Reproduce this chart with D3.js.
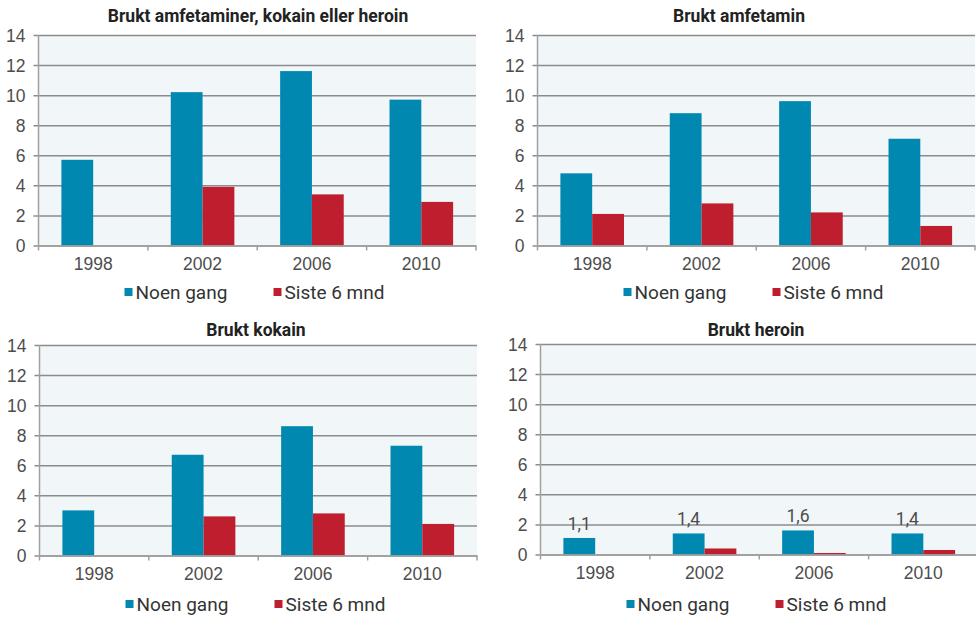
<!DOCTYPE html>
<html lang="no">
<head>
    <meta charset="UTF-8">
    <title>Brukt amfetaminer, kokain eller heroin</title>
    <script src="https://d3js.org/d3.v7.min.js"></script>
    <style>
        body {
            margin: 0;
            background: #fff;
            font-family: Roboto, "Noto Sans", sans-serif;
        }
        .tick text {
            font-size: 17.5px;
            fill: #4d4d4d;
        }
        .title {
            font-size: 17.5px;
            font-weight: bold;
            fill: #222;
            text-anchor: middle;
        }
        .legend text {
            font-size: 19px;
            fill: #333;
        }
        .label {
            font-size: 17.5px;
            fill: #4d4d4d;
            text-anchor: middle;
        }
    </style>
</head>
<body>
    <svg id="chart" width="976" height="617"></svg>

    <script>
        // Data
        const years = ["1998", "2002", "2006", "2010"];
        const seriesNames = ["Noen gang", "Siste 6 mnd"];
        const yTicks = [0, 2, 4, 6, 8, 10, 12, 14];

        const anyNoen = [5.7, 10.2, 11.6, 9.7];
        const anySiste = [null, 3.9, 3.4, 2.9];
        const amfNoen = [4.8, 8.8, 9.6, 7.1];
        const amfSiste = [2.1, 2.8, 2.2, 1.3];
        const kokNoen = [3.0, 6.7, 8.6, 7.3];
        const kokSiste = [null, 2.6, 2.8, 2.1];
        const herNoen = [1.1, 1.4, 1.6, 1.4];
        const herSiste = [null, 0.4, 0.1, 0.3];

        const colors = ["#0088b1", "#be1e2d"];

        // Panels (layout)
        const panels = [
            { title: "Brukt amfetaminer, kokain eller heroin", values: [anyNoen, anySiste],
              left: 38.5, right: 476, top: 35, bottom: 245.5, titleX: 258, titleY: 22, legendY: 292, labels: false },
            { title: "Brukt amfetamin", values: [amfNoen, amfSiste],
              left: 537.5, right: 975, top: 35, bottom: 245.5, titleX: 739, titleY: 22, legendY: 292, labels: false },
            { title: "Brukt kokain", values: [kokNoen, kokSiste],
              left: 39.5, right: 477, top: 345, bottom: 555.5, titleX: 256, titleY: 336, legendY: 604, labels: false },
            { title: "Brukt heroin", values: [herNoen, herSiste],
              left: 540.5, right: 978, top: 344, bottom: 554.5, titleX: 756, titleY: 336, legendY: 604, labels: true }
        ];

        const svg = d3.select("#chart");
        const fmt = d => d3.format(".1f")(d).replace(".", ",");

        panels.forEach(p => {
            const g = svg.append("g");

            const x0 = d3.scaleBand()
                         .domain(years)
                         .range([p.left, p.right])
                         .padding(0);

            const x1 = d3.scaleBand()
                         .domain(seriesNames)
                         .range([0, x0.bandwidth()])
                         .paddingInner(0)
                         .paddingOuter(0.72);

            const y = d3.scaleLinear()
                        .domain([0, 14])
                        .range([p.bottom, p.top]);

            // Plot background
            g.append("rect")
             .attr("x", p.left)
             .attr("y", p.top)
             .attr("width", p.right - p.left)
             .attr("height", p.bottom - p.top)
             .attr("fill", "#f1f6f9");

            // Y axis with gridlines
            const yAxis = g.append("g")
                           .attr("transform", `translate(${p.left},0)`)
                           .call(d3.axisLeft(y)
                                   .tickValues(yTicks)
                                   .tickSize(-(p.right - p.left))
                                   .tickPadding(13));
            yAxis.select(".domain").remove();
            yAxis.selectAll(".tick line")
                 .attr("x1", -5)
                 .attr("stroke", "#8c8c8c")
                 .attr("stroke-width", 1.5);
            yAxis.selectAll(".tick text").attr("dy", "0.35em");

            // Vertical axis line
            g.append("line")
             .attr("x1", p.left)
             .attr("x2", p.left)
             .attr("y1", p.top)
             .attr("y2", p.bottom)
             .attr("stroke", "#a0a0a0")
             .attr("stroke-width", 1.5);

            // Bars
            seriesNames.forEach((s, si) => {
                g.selectAll(null)
                 .data(years.map((yr, i) => ({ year: yr, v: p.values[si][i] })).filter(d => d.v != null))
                 .enter()
                 .append("rect")
                 .attr("x", d => x0(d.year) + x1(s))
                 .attr("y", d => y(d.v))
                 .attr("width", x1.bandwidth())
                 .attr("height", d => y(0) - y(d.v))
                 .attr("fill", colors[si]);
            });

            // Value labels
            if (p.labels) {
                g.selectAll(null)
                 .data(years.map((yr, i) => ({ year: yr, v: p.values[0][i] })))
                 .enter()
                 .append("text")
                 .attr("class", "label")
                 .attr("x", d => x0(d.year) + x1(seriesNames[0]) + x1.bandwidth() / 2)
                 .attr("y", d => y(d.v) - 8)
                 .text(d => fmt(d.v));
            }

            // X axis
            const xAxis = g.append("g")
                           .attr("transform", `translate(0,${p.bottom})`)
                           .call(d3.axisBottom(x0).tickSize(0).tickPadding(11));
            xAxis.select(".domain")
                 .attr("stroke", "#a0a0a0")
                 .attr("stroke-width", 1.5);
            xAxis.selectAll(".tick text").attr("dy", "0.75em");

            // band boundary ticks
            const bounds = years.map(yr => x0(yr)).concat([p.right]);
            g.selectAll(null)
             .data(bounds)
             .enter()
             .append("line")
             .attr("x1", d => d)
             .attr("x2", d => d)
             .attr("y1", p.bottom)
             .attr("y2", p.bottom + 5)
             .attr("stroke", "#a0a0a0")
             .attr("stroke-width", 1.5);

            // Title
            g.append("text")
             .attr("class", "title")
             .attr("x", p.titleX)
             .attr("y", p.titleY)
             .text(p.title);

            // Legend
            const legend = g.append("g").attr("class", "legend");
            const legendX = [p.left + 86, p.left + 235];
            seriesNames.forEach((s, si) => {
                legend.append("rect")
                      .attr("x", legendX[si])
                      .attr("y", p.legendY - 4)
                      .attr("width", 8)
                      .attr("height", 8)
                      .attr("fill", colors[si]);
                legend.append("text")
                      .attr("x", legendX[si] + 11)
                      .attr("y", p.legendY)
                      .attr("dy", "0.35em")
                      .text(s);
            });
        });
    </script>
</body>
</html>
